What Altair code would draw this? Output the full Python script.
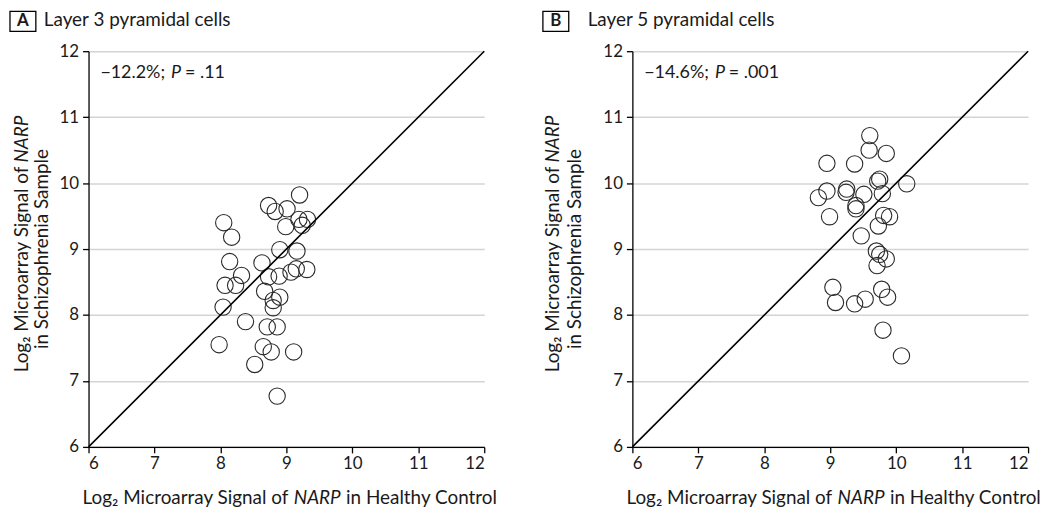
import altair as alt
import pandas as pd

# ---- data ----
a_x = [9.20, 8.73, 8.83, 9.01, 9.19, 9.32, 8.99, 9.24, 8.05, 8.17, 8.90, 9.16,
       8.14, 8.63, 8.32, 8.73, 8.89, 9.07, 9.15, 9.31, 8.07, 8.23, 8.67, 8.90,
       8.80, 8.80, 8.04, 8.38, 8.71, 8.86, 7.98, 8.65, 8.77, 9.11, 8.52, 8.86]
a_y = [9.82, 9.66, 9.57, 9.61, 9.45, 9.45, 9.34, 9.36, 9.40, 9.18, 8.99, 8.97,
       8.81, 8.79, 8.60, 8.58, 8.59, 8.65, 8.70, 8.69, 8.45, 8.45, 8.36, 8.27,
       8.22, 8.11, 8.12, 7.90, 7.82, 7.82, 7.55, 7.52, 7.44, 7.44, 7.25, 6.77]

b_x = [9.60, 9.59, 9.85, 8.95, 9.37, 9.75, 9.72, 10.16, 8.95, 9.25, 9.24, 8.82,
       9.51, 9.79, 9.39, 9.39, 8.99, 9.81, 9.90, 9.73, 9.47, 9.70, 9.75, 9.85,
       9.71, 9.04, 9.78, 9.08, 9.37, 9.53, 9.87, 9.80, 10.08]
b_y = [10.72, 10.50, 10.45, 10.30, 10.29, 10.06, 10.03, 9.99, 9.88, 9.91, 9.86, 9.78,
       9.83, 9.84, 9.66, 9.61, 9.49, 9.51, 9.49, 9.35, 9.20, 8.97, 8.92, 8.85,
       8.75, 8.42, 8.39, 8.19, 8.17, 8.24, 8.27, 7.77, 7.38]

tick_values = [6, 7, 8, 9, 10, 11, 12]
diag_values = [6, 12]
panel_letters = ["A", "B"]
panel_titles = ["Layer 3 pyramidal cells", "Layer 5 pyramidal cells"]
pct_labels = ["\u221212.2%;", "\u221214.6%;"]
p_labels = ["= .11", "= .001"]
x_title_parts = ["Log\u2082 Microarray Signal of", "NARP", "in Healthy Control"]
y_title_parts = ["Log\u2082 Microarray Signal of", "NARP", "in Schizophrenia Sample"]

FONT = "Lato"
W = 398
H = 398
one = pd.DataFrame({"k": [0]})


def txt(text, x, y, size=19, align="left", baseline="middle", angle=0,
        style="normal", weight="normal"):
    return alt.Chart(one).mark_text(
        font=FONT, fontSize=size, align=align, baseline=baseline, angle=angle,
        fontStyle=style, fontWeight=weight, color="#1a1a1a"
    ).encode(x=alt.value(x), y=alt.value(y), text=alt.value(text))


def panel(xs, ys, i, box_x, title_x, yt1, yt2):
    pts = pd.DataFrame({"x": xs, "y": ys})
    diag = pd.DataFrame({"x": diag_values, "y": diag_values})
    xenc = alt.X("x:Q", scale=alt.Scale(domain=[6, 12], nice=False, zero=False),
                 axis=alt.Axis(values=tick_values, title=None, grid=False,
                               labelPadding=3, format="d"))
    yenc = alt.Y("y:Q", scale=alt.Scale(domain=[6, 12], nice=False, zero=False),
                 axis=alt.Axis(values=tick_values, title=None, grid=True,
                               gridColor="#d4d4d4", gridWidth=1.5,
                               labelPadding=4, format="d"))
    points = alt.Chart(pts).mark_point(
        shape="circle", filled=False, size=270, stroke="#2a2a2a",
        strokeWidth=1.1, opacity=1
    ).encode(x=xenc, y=yenc)
    line = alt.Chart(diag).mark_line(color="black", strokeWidth=1.6).encode(
        x=xenc, y=yenc)

    box = alt.Chart(one).mark_rect(fill="white", stroke="black", strokeWidth=1.3).encode(
        x=alt.value(box_x), x2=alt.value(box_x + 26),
        y=alt.value(-40), y2=alt.value(-20))
    letter = txt(panel_letters[i], box_x + 13, -30, size=17, align="center",
                 weight="bold")
    title = txt(panel_titles[i], title_x, -31, size=19)

    ann1 = txt(pct_labels[i], 77, 22, size=18, align="right")
    ann2 = txt("P", 83, 22, size=18, style="italic")
    ann3 = txt(p_labels[i], 97, 22, size=18)

    c = 230
    hw = 25
    xt1 = txt(x_title_parts[0], c - hw - 4, 455, align="right", baseline="alphabetic")
    xt2 = txt(x_title_parts[1], c, 455, align="center", baseline="alphabetic",
              style="italic")
    xt3 = txt(x_title_parts[2], c + hw + 4, 455, align="left", baseline="alphabetic")

    yb = 116
    yl1 = txt(y_title_parts[0], yt1, yb, align="right", angle=270)
    yl2 = txt(y_title_parts[1], yt1, yb - 4, align="left", angle=270, style="italic")
    yl3 = txt(y_title_parts[2], yt2, H / 2, align="center", angle=270)

    return alt.layer(points, line, box, letter, title, ann1, ann2, ann3,
                     xt1, xt2, xt3, yl1, yl2, yl3).properties(width=W, height=H)


pA = panel(a_x, a_y, 0, -79, -45, -67, -47)
pB = panel(b_x, b_y, 1, -90, -45, -80, -58)

chart = alt.hconcat(pA, pB, spacing=149, bounds="flush").properties(
    padding={"left": 1, "top": 1, "right": 0, "bottom": 0}
).configure_view(stroke=None).configure_axis(
    labelFont=FONT, labelFontSize=17, labelColor="#1a1a1a",
    domainColor="black", domainWidth=1.3, tickColor="black", tickWidth=1.3,
    tickSize=6
)

chart.save("out.html", embed_options={"renderer": "svg", "actions": False})
